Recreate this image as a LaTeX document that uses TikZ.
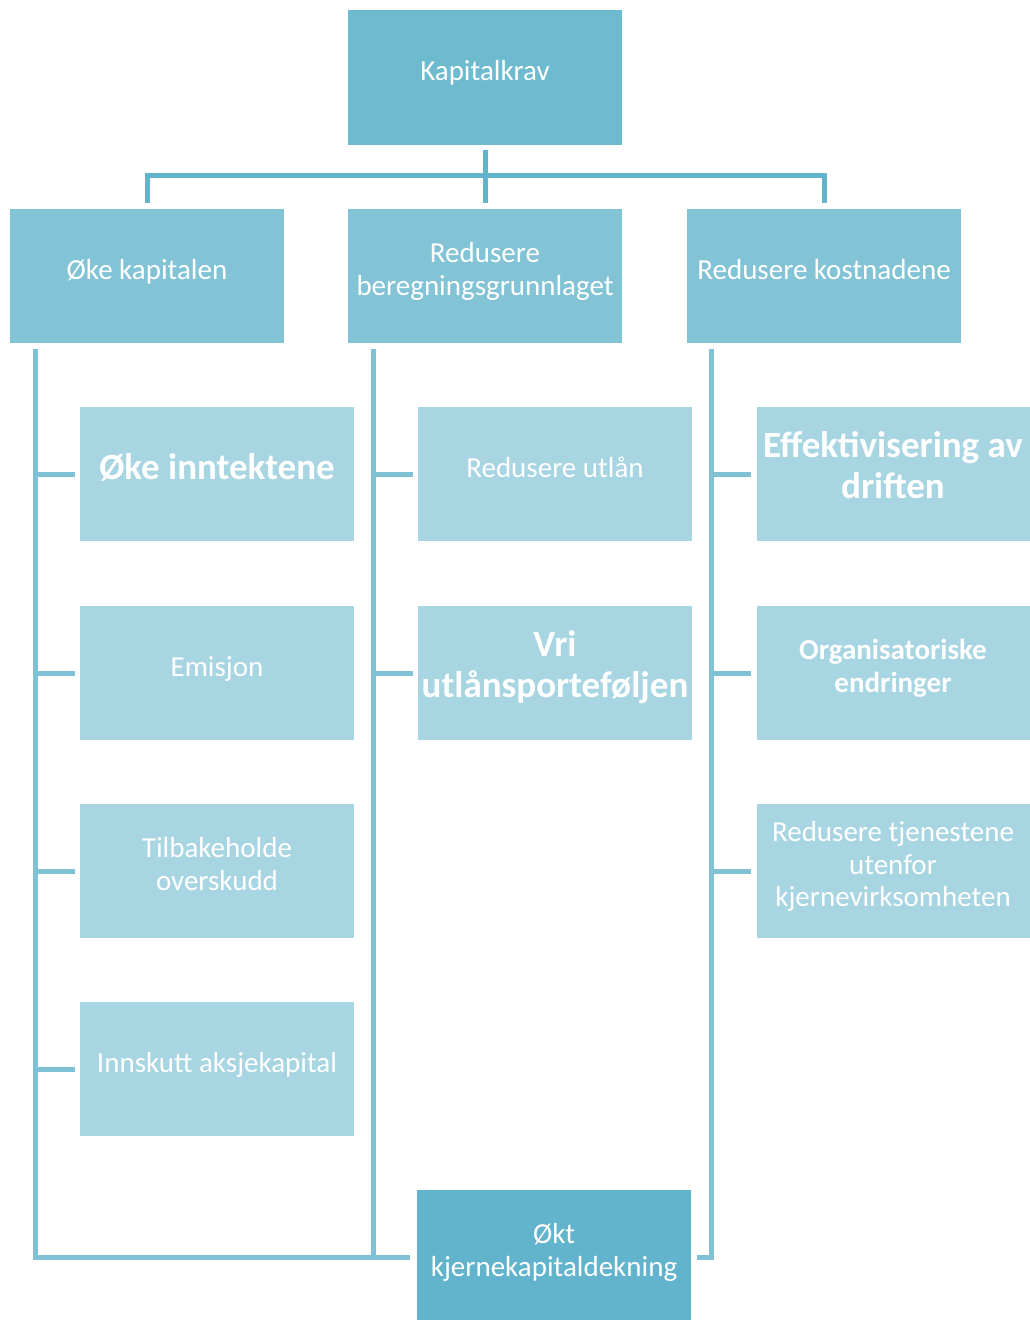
\documentclass[tikz,border=0pt]{standalone}
\usepackage{fontspec}
\setmainfont{Carlito}
\definecolor{topblue}{HTML}{6EBBD0}
\definecolor{midblue}{HTML}{82C4D6}
\definecolor{lightblue}{HTML}{A7D5E2}
\definecolor{endblue}{HTML}{62B4CD}
\definecolor{linedark}{HTML}{62B4CB}
\definecolor{linelight}{HTML}{7FC2D5}
\newcommand{\linestrut}{\rule[-0.48em]{0pt}{1.2em}}
\newcommand{\boldstrut}{\rule[-0.43em]{0pt}{1.21em}}
\begin{document}
\begin{tikzpicture}[x=1pt,y=-1pt,
    box/.style={rectangle, minimum width=274pt, minimum height=134pt, inner sep=0pt,
      align=center, text=white, font=\fontsize{29}{32.5}\selectfont,
      execute at begin node=\linestrut, execute at end node=\linestrut},
    bigbold/.style={font=\fontsize{37}{41}\selectfont\bfseries,
      execute at begin node=\boldstrut, execute at end node=\boldstrut},
    midbold/.style={font=\fontsize{29}{33}\selectfont\bfseries},
    trunk/.style={line width=5pt, draw=linedark},
    rail/.style={line width=5pt, draw=linelight}]
  \useasboundingbox (0,0) rectangle (1029,1320);
  % top and second level
  \node[box, fill=topblue, minimum height=135pt] (kapitalkrav) at (485,77.5) {Kapitalkrav};
  \node[box, fill=midblue] (oke) at (147,276) {Øke kapitalen};
  \node[box, fill=midblue] (beregning) at (485,276) {Redusere\\beregningsgrunnlaget};
  \node[box, fill=midblue] (kostnad) at (824,276) {Redusere kostnadene};
  % third level
  \node[box, fill=lightblue, bigbold] (inntekt) at (217,474) {Øke inntektene};
  \node[box, fill=lightblue] (emisjon) at (217,673) {Emisjon};
  \node[box, fill=lightblue] (tilbake) at (217,871) {Tilbakeholde\\overskudd};
  \node[box, fill=lightblue] (innskutt) at (217,1069) {Innskutt aksjekapital};
  \node[box, fill=lightblue] (utlan) at (555,474) {Redusere utlån};
  \node[box, fill=lightblue, bigbold] (vri) at (555,673) {Vri\\utlånsporteføljen};
  \node[box, fill=lightblue, bigbold, minimum width=273pt] (effektiv) at (893,474) {Effektivisering av\\driften};
  \node[box, fill=lightblue, midbold, minimum width=273pt] (organ) at (893,673) {Organisatoriske\\endringer};
  \node[box, fill=lightblue, minimum width=273pt] (tjenester) at (893,871) {Redusere tjenestene\\utenfor\\kjernevirksomheten};
  \node[box, fill=endblue] (okt) at (554,1257) {Økt\\kjernekapitaldekning};
  % connectors from the top
  \draw[trunk] ([yshift=-5pt]kapitalkrav.south) -- ([yshift=6pt]beregning.north);
  \draw[trunk] ([yshift=6pt]oke.north) -- ++(0,-27) -| ([yshift=6pt]kostnad.north);
  % rails
  \draw[rail] ([xshift=26pt,yshift=-6pt]oke.south west) coordinate (r1) |- ([xshift=-7pt]okt.west);
  \draw[rail] ([xshift=26pt,yshift=-6pt]beregning.south west) coordinate (r2) -- (r2 |- okt.west);
  \draw[rail] ([xshift=25pt,yshift=-6pt]kostnad.south west) coordinate (r3) |- ([xshift=6pt]okt.east);
  \foreach \r/\b in {r1/inntekt,r1/emisjon,r1/tilbake,r1/innskutt,r2/utlan,r2/vri,r3/effektiv,r3/organ,r3/tjenester}
  {
    \draw[rail] (\r |- \b.west) -- ([xshift=-5pt]\b.west);
  }
\end{tikzpicture}
\end{document}
